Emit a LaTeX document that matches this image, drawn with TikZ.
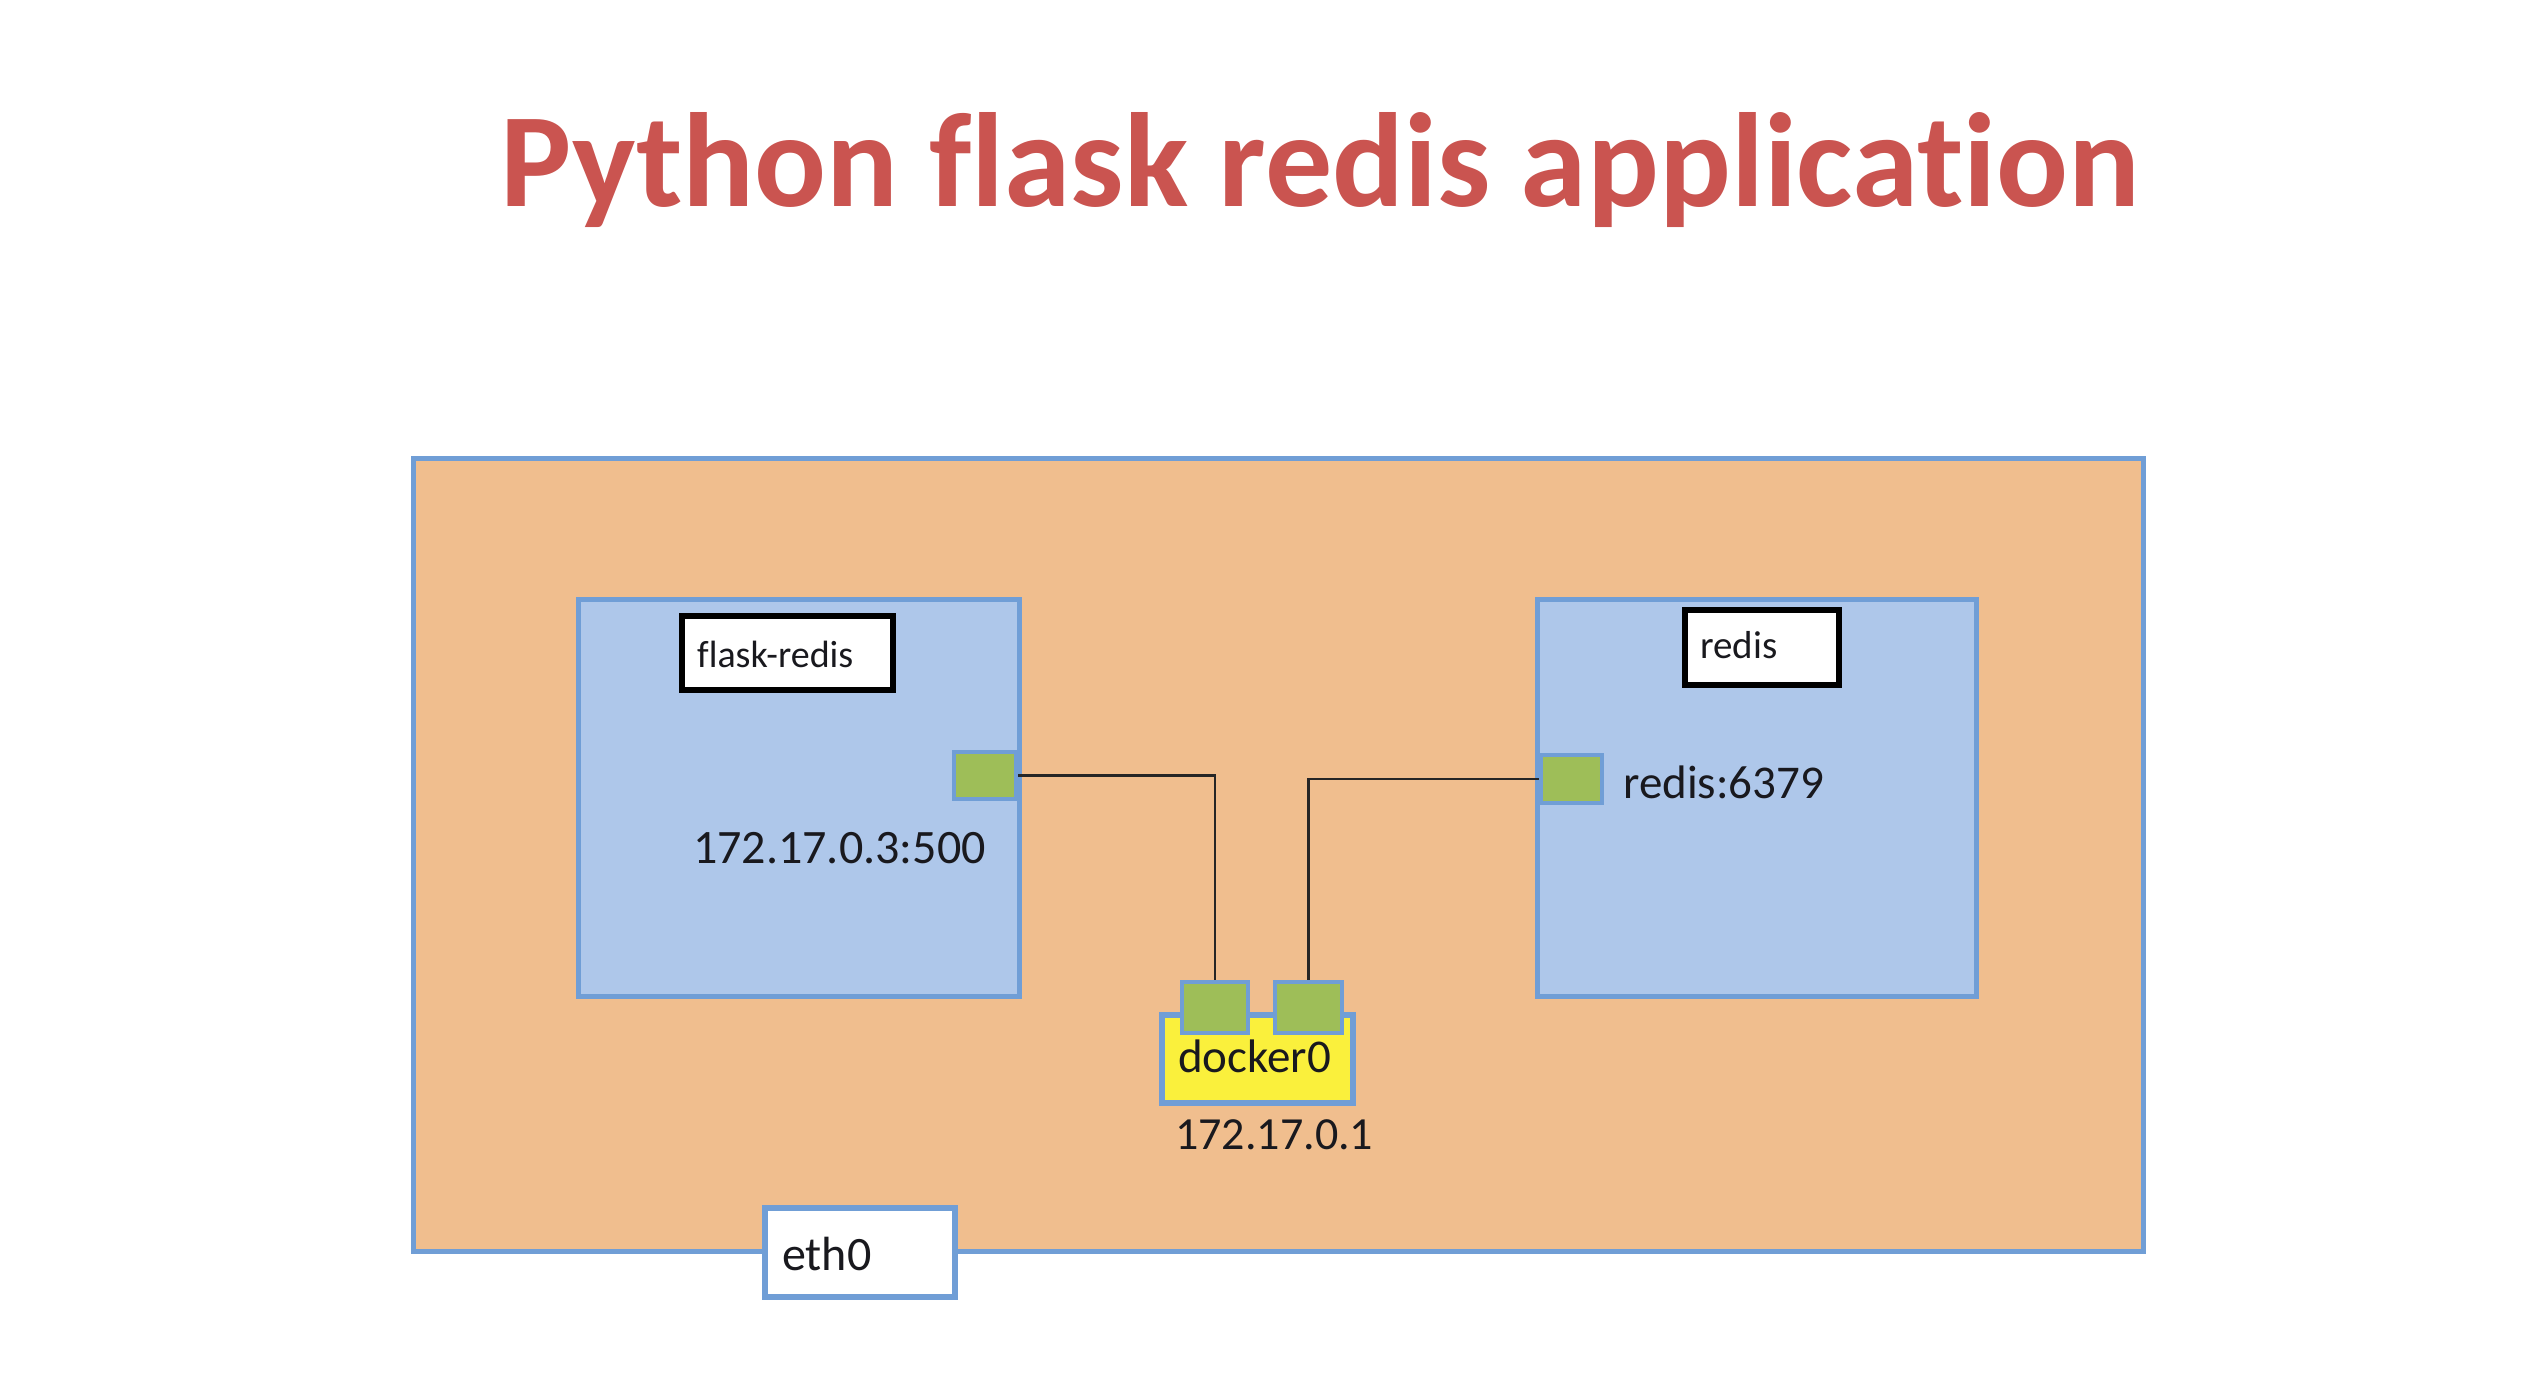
\documentclass[tikz,border=0pt]{standalone}
\usepackage{fontspec}
\setmainfont{Carlito}[Ligatures={NoCommon,NoRare,NoContextual}]
\definecolor{titlered}{RGB}{202,84,80}
\definecolor{hostfill}{RGB}{240,190,142}
\definecolor{boxblue}{RGB}{112,158,214}
\definecolor{cfill}{RGB}{174,199,234}
\definecolor{portgreen}{RGB}{158,190,88}
\definecolor{dyellow}{RGB}{250,240,60}
\definecolor{txt}{RGB}{25,25,30}
\tikzset{
  box/.style={draw=boxblue, line width=5pt, inner sep=0pt, rectangle},
  hostbox/.style={box, fill=hostfill},
  ctbox/.style={box, fill=cfill},
  portbox/.style={box, fill=portgreen, line width=4.5pt},
  bridgebox/.style={box, fill=dyellow, line width=5.5pt},
  ethbox/.style={box, fill=white, line width=6pt},
  namebox/.style={draw=black, fill=white, line width=6pt, inner sep=0pt, rectangle},
  lbl/.style={anchor=base west, inner sep=0pt, text=txt},
  conn/.style={draw=black!85, line width=2.8pt},
}
\begin{document}
\begin{tikzpicture}[x=1pt,y=-1pt]
\useasboundingbox[fill=white] (0,0) rectangle (2540,1374);

\node[anchor=base, inner sep=0pt, text=titlered, font=\fontsize{134}{134}\selectfont\bfseries] (title) at (1320,206) {Python flask redis application};

\node[hostbox, minimum width=1730pt, minimum height=793pt] (host) at (1278,854.5) {};

\node[ctbox, minimum width=441pt, minimum height=397pt] (flask) at (798.5,797.5) {};
\node[ctbox, minimum width=439pt, minimum height=397pt] (redis) at (1756.5,797.5) {};

\node[namebox, minimum width=211pt, minimum height=74pt] (flaskname) at (787.5,653) {};
\node[namebox, minimum width=154pt, minimum height=75pt] (redisname) at (1762,647) {};

\node[portbox, minimum width=62pt, minimum height=47pt] (lport) at (985,775.5) {};
\node[portbox, minimum width=61pt, minimum height=48pt] (rport) at (1571.5,779) {};

\node[bridgebox, minimum width=191pt, minimum height=88pt] (docker) at (1257.5,1059) {};
\node[portbox, minimum width=66pt, minimum height=51pt] (dl) at (1215,1007.5) {};
\node[portbox, minimum width=67pt, minimum height=51pt] (dr) at (1308.5,1007.5) {};

\node[ethbox, minimum width=190pt, minimum height=89pt] (eth) at (860,1252.5) {};

\draw[conn] (lport.east) -| (dl.north);
\draw[conn] (rport.west) -| (dr.north);

\node[lbl, font=\fontsize{38}{38}\selectfont] (t1) at (697,667) {flask-redis};
\node[lbl, font=\fontsize{39}{39}\selectfont] (t2) at (1700,658) {redis};
\node[lbl, font=\fontsize{48}{48}\selectfont] (t3) at (693,863) {172.17.0.3:500};
\node[lbl, font=\fontsize{47}{47}\selectfont] (t4) at (1623,798) {redis:6379};
\node[lbl, font=\fontsize{47}{47}\selectfont] (t5) at (1178,1072) {docker0};
\node[lbl, font=\fontsize{46}{46}\selectfont] (t6) at (1175,1149) {172.17.0.1};
\node[lbl, font=\fontsize{48}{48}\selectfont] (t7) at (782,1270) {eth0};
\end{tikzpicture}
\end{document}
